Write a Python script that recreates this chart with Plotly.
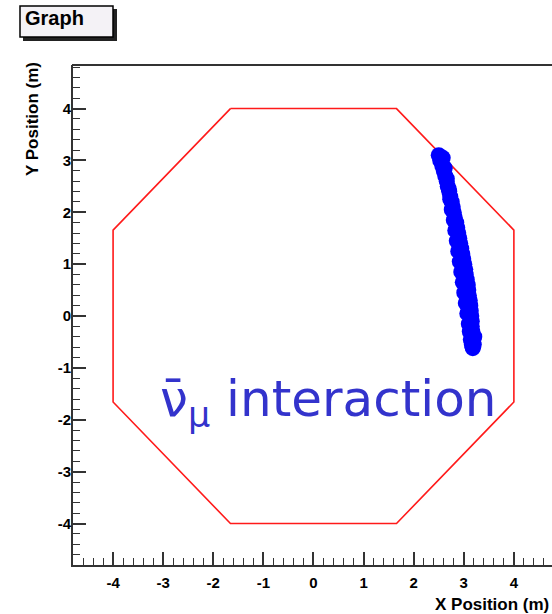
import plotly.graph_objects as go

# Detector outline (regular octagon, apothem 4 m)
oct_x = [-1.657, 1.657, 4.0, 4.0, 1.657, -1.657, -4.0, -4.0, -1.657]
oct_y = [4.0, 4.0, 1.657, -1.657, -4.0, -4.0, -1.657, 1.657, 4.0]

# Hit positions of the reconstructed track (m)
hit_x = [2.50, 2.53, 2.57, 2.60, 2.63, 2.66, 2.68, 2.71, 2.73, 2.76, 2.78, 2.80,
         2.82, 2.85, 2.87, 2.89, 2.91, 2.93, 2.95, 2.97, 2.99, 3.01, 3.03, 3.04,
         3.06, 3.08, 3.09, 3.10, 3.12, 3.13, 3.14, 3.15, 3.16, 3.16, 3.17, 3.17,
         3.18, 3.18,
         2.58, 2.62, 2.66, 2.70, 2.73, 2.76, 2.80, 2.83, 2.86, 2.89, 2.92, 2.95,
         2.98, 3.01, 3.04, 3.07, 3.10, 3.12, 3.14, 3.16, 3.18, 3.20, 3.21]
hit_y = [3.10, 3.00, 2.90, 2.80, 2.70, 2.60, 2.50, 2.40, 2.30, 2.20, 2.10, 2.00,
         1.90, 1.80, 1.70, 1.60, 1.50, 1.40, 1.30, 1.20, 1.10, 1.00, 0.90, 0.80,
         0.70, 0.60, 0.50, 0.40, 0.30, 0.20, 0.10, 0.00, -0.10, -0.20, -0.30, -0.40,
         -0.50, -0.60,
         3.05, 2.85, 2.65, 2.45, 2.25, 2.05, 1.85, 1.65, 1.45, 1.25, 1.05, 0.85,
         0.65, 0.45, 0.25, 0.05, -0.15, -0.30, -0.45, -0.55, -0.62, -0.55, -0.40]

tick_vals = [-4, -3, -2, -1, 0, 1, 2, 3, 4]
tick_text = ["-4", "-3", "-2", "-1", "0", "1", "2", "3", "4"]

W, H = 552, 614
L, R, T, B = 73, 0, 65, 49
PW, PH = W - L - R, H - T - B


def px(x):
    return (x - L) / PW


def py(y):
    return (H - B - y) / PH


fig = go.Figure()
fig.add_trace(go.Scatter(x=oct_x, y=oct_y, mode="lines",
                         line=dict(color="#ff1a1a", width=1.6),
                         hoverinfo="skip", showlegend=False))
fig.add_trace(go.Scatter(x=hit_x, y=hit_y, mode="markers",
                         marker=dict(color="#0000ff", size=16, line=dict(width=0)),
                         showlegend=False))

tickfont = dict(family="Liberation Sans", size=15, color="black")
axis_common = dict(showgrid=False, zeroline=False,
                   showline=True, linecolor="#333333", linewidth=2,
                   ticks="inside", ticklen=13, tickwidth=1.6, tickcolor="#333333",
                   tickvals=tick_vals, ticktext=["<b>%s</b>" % t for t in tick_text],
                   tickfont=tickfont,
                   minor=dict(ticks="inside", ticklen=7, tickwidth=1.3,
                              tickcolor="#333333", dtick=0.2, showgrid=False))
fig.update_xaxes(range=[-4.8, -4.8 + PW / 50.1], mirror=False,
                 ticklabelstandoff=3, **axis_common)
fig.update_yaxes(range=[-4.80, 4.84], mirror=False,
                 ticklabelstandoff=-3, **axis_common)

# Top frame line
fig.add_shape(type="line", xref="paper", yref="paper", x0=px(72), x1=px(560),
              y0=1, y1=1, line=dict(color="#333333", width=2))

# Title box with drop shadow
fig.add_shape(type="rect", xref="paper", yref="paper",
              x0=px(23), x1=px(117), y0=py(41), y1=py(9),
              line=dict(width=0), fillcolor="#222222", layer="above")
fig.add_shape(type="rect", xref="paper", yref="paper",
              x0=px(20), x1=px(113), y0=py(37), y1=py(6),
              line=dict(width=1.5, color="black"), fillcolor="#f4f2f6", layer="above")

annotations = [
    dict(text="<b>Graph</b>", x=px(23), y=py(18), xref="paper", yref="paper",
         xanchor="left", yanchor="middle", showarrow=False,
         font=dict(family="Liberation Sans", size=20, color="black")),
    dict(text="<b>X Position (m)</b>", x=px(551), y=py(604), xref="paper", yref="paper",
         xanchor="right", yanchor="middle", showarrow=False,
         font=dict(family="Liberation Sans", size=17, color="black")),
    dict(text="<b>Y Position (m)</b>", x=px(32), y=py(60), xref="paper", yref="paper",
         xanchor="center", yanchor="top", textangle=-90, showarrow=False,
         font=dict(family="Liberation Sans", size=17, color="black")),
    dict(text="\u03bd\u0304<sub>\u03bc</sub> interaction", x=px(158), y=py(403),
         xref="paper", yref="paper", xanchor="left", yanchor="middle",
         showarrow=False,
         font=dict(family="DejaVu Sans", size=50, color="#3333cc")),
]

fig.update_layout(width=W, height=H, margin=dict(l=L, r=R, t=T, b=B),
                  paper_bgcolor="white", plot_bgcolor="white",
                  annotations=annotations, showlegend=False)

fig.write_html("out.html", config=dict(displayModeBar=False))
